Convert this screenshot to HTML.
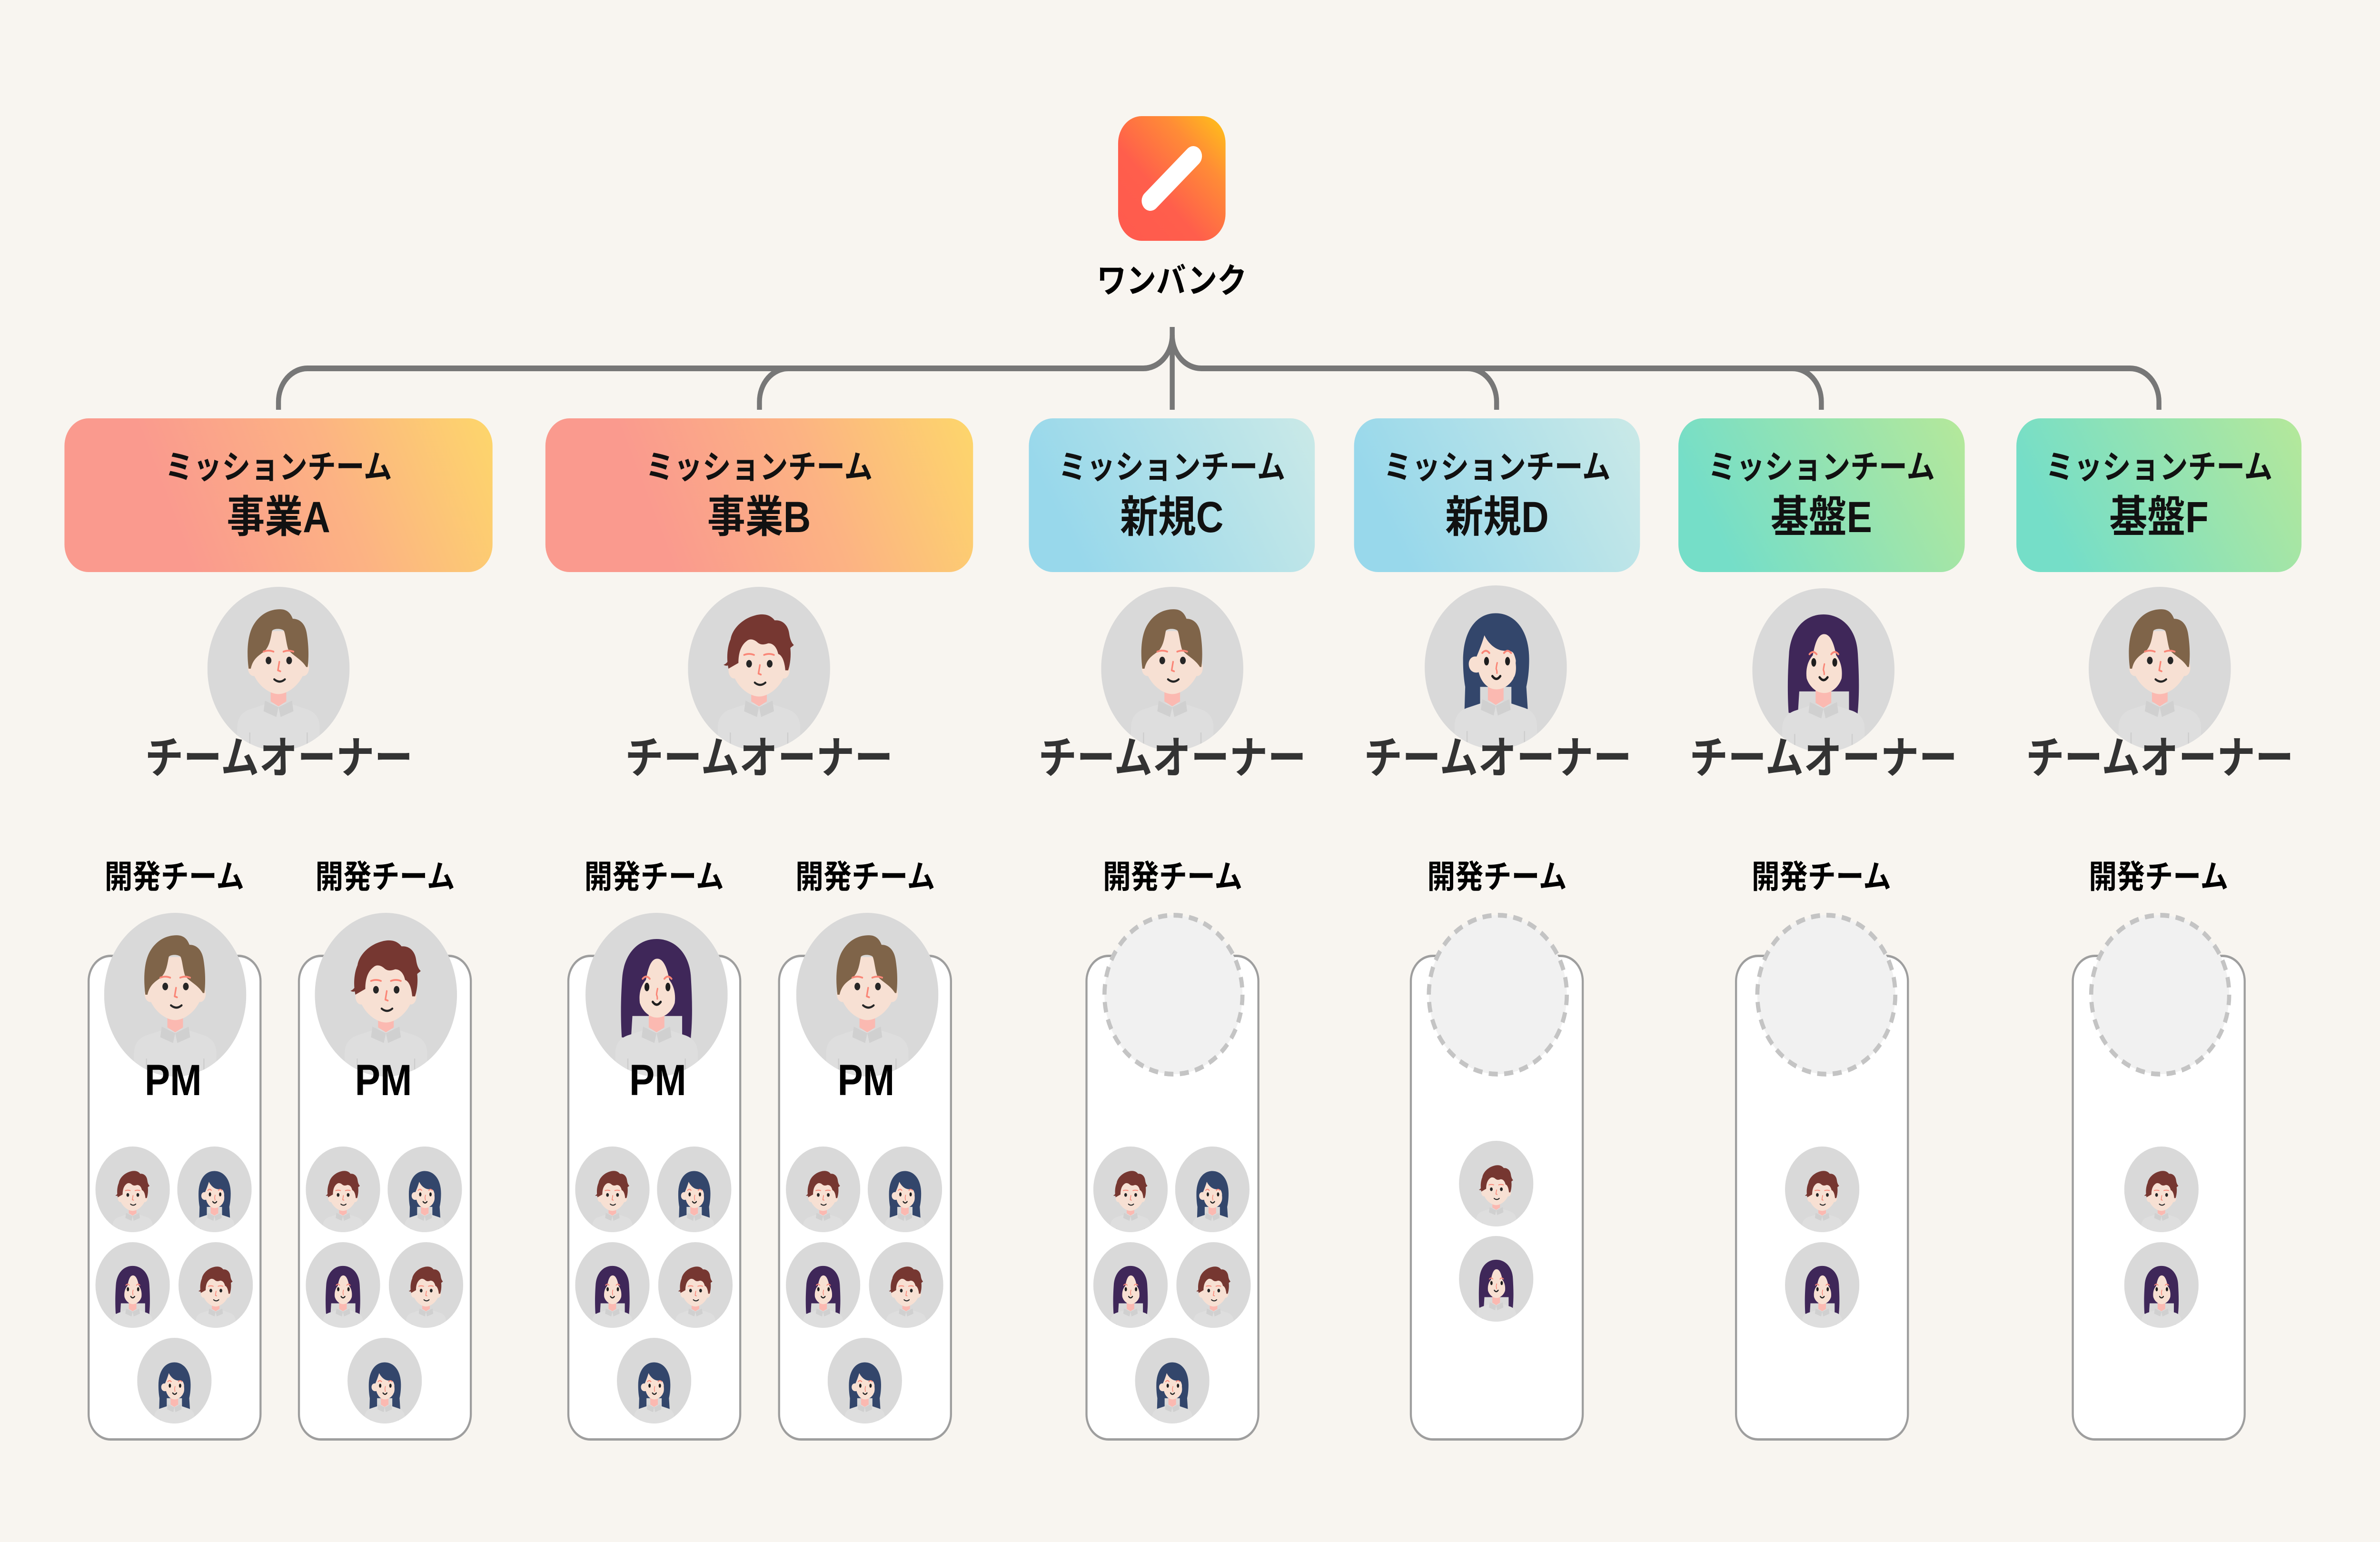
<!DOCTYPE html>
<html lang="ja">
<head>
<meta charset="utf-8">
<style>
html,body{margin:0;padding:0;background:#F8F5F0;width:100%;height:100%;overflow:hidden;}
svg.root{display:block;width:100vw;height:100vh;}
</style>
</head>
<body>
<svg class="root" xmlns="http://www.w3.org/2000/svg" viewBox="0 0 5760 3240" preserveAspectRatio="none">
<defs>
  <clipPath id="cc" clipPathUnits="userSpaceOnUse"><circle cx="50" cy="50" r="50"/></clipPath>
  <linearGradient id="lg" gradientUnits="userSpaceOnUse" x1="2706" y1="506" x2="2966" y2="244">
    <stop offset="0" stop-color="#FF5A4E"/><stop offset="0.38" stop-color="#FF5E4C"/>
    <stop offset="0.72" stop-color="#FF8C36"/><stop offset="1" stop-color="#FFC417"/>
  </linearGradient>
  <linearGradient id="gA" gradientUnits="userSpaceOnUse" x1="467" y1="1202" x2="1192" y2="879">
    <stop offset="0" stop-color="#FA9A8E"/><stop offset="0.5" stop-color="#FCB383"/><stop offset="1" stop-color="#FDD66B"/>
  </linearGradient>
  <linearGradient id="gB" gradientUnits="userSpaceOnUse" x1="1630" y1="1202" x2="2355" y2="879">
    <stop offset="0" stop-color="#FA9A8E"/><stop offset="0.5" stop-color="#FCB383"/><stop offset="1" stop-color="#FDD66B"/>
  </linearGradient>
  <linearGradient id="gC" gradientUnits="userSpaceOnUse" x1="2628" y1="1202" x2="3182" y2="879">
    <stop offset="0" stop-color="#98D8EB"/><stop offset="1" stop-color="#CAE9E7"/>
  </linearGradient>
  <linearGradient id="gD" gradientUnits="userSpaceOnUse" x1="3415" y1="1202" x2="3969" y2="879">
    <stop offset="0" stop-color="#98D8EB"/><stop offset="1" stop-color="#CAE9E7"/>
  </linearGradient>
  <linearGradient id="gE" gradientUnits="userSpaceOnUse" x1="4200" y1="1202" x2="4755" y2="879">
    <stop offset="0" stop-color="#75DEC8"/><stop offset="1" stop-color="#B5E89A"/>
  </linearGradient>
  <linearGradient id="gF" gradientUnits="userSpaceOnUse" x1="5018" y1="1202" x2="5570" y2="879">
    <stop offset="0" stop-color="#75DEC8"/><stop offset="1" stop-color="#B5E89A"/>
  </linearGradient>

  <g id="body">
    <path d="M21 101V86Q21 77 31 74.5L43 71H57L69 74.5Q79 77 79 86V101Z" fill="#DEDEDE"/>
    <path d="M29.8 89V101M70.2 89V101" stroke="#CDCDCD" stroke-width="0.8"/>
    <path d="M44.5 58V70L50 73L55.5 70V58Z" fill="#FBB9B1"/>
    <path d="M40.5 69.5L50 73.5L48.5 79.5L39.5 76ZM59.5 69.5L50 73.5L51.5 79.5L60.5 76Z" fill="#D0D0D0"/>
  </g>
  <g id="mface">
    <ellipse cx="32.5" cy="51" rx="4" ry="5" fill="#F7E0D3"/>
    <ellipse cx="67.5" cy="51" rx="4" ry="5" fill="#F7E0D3"/>
    <path d="M31 42C31 31 39 28.5 50 28.5C61 28.5 69 31 69 42V50C68 59 58 67 50 67C42 67 32 59 31 50Z" fill="#F7E0D3"/>
  </g>
  <g id="mfeat">
    <ellipse cx="43" cy="47" rx="2" ry="2.3" fill="#262626"/>
    <ellipse cx="57.5" cy="47" rx="2" ry="2.3" fill="#262626"/>
    <path d="M39.5 41.6Q43 40.4 46.5 41.6M53.5 41.6Q57 40.4 60.5 41.6" stroke="#FA8677" stroke-width="1.1" fill="none" stroke-linecap="round"/>
    <path d="M50.6 47.8L49.6 53L51.3 53.6" stroke="#FA8677" stroke-width="1.1" fill="none" stroke-linecap="round" stroke-linejoin="round"/>
    <path d="M47 58.5Q50.8 61.3 54.5 58.5" stroke="#262626" stroke-width="1.3" fill="none" stroke-linecap="round"/>
  </g>
  <g id="wfeat">
    <ellipse cx="43.5" cy="46.3" rx="1.7" ry="2.6" fill="#1E1E1E"/>
    <ellipse cx="58.3" cy="46.3" rx="1.7" ry="2.6" fill="#1E1E1E"/>
    <path d="M40.5 41.3Q43 38.6 45.5 41.3M55.8 41.3Q58.3 38.6 60.8 41.3" stroke="#FA8677" stroke-width="1.2" fill="none" stroke-linecap="round"/>
    <path d="M51 47.3Q50.3 50 50.3 51Q51 52.5 50.8 53.6" stroke="#FA8677" stroke-width="1" fill="none" stroke-linecap="round"/>
    <path d="M47.6 55.4Q50.4 58.8 53.2 55.4" stroke="#1E1E1E" stroke-width="1.5" fill="none" stroke-linecap="round"/>
  </g>

  <g id="redman">
    <use href="#body"/>
    <use href="#mface"/>
    <path d="M28.5 50C27 44 27.5 37 30 32C31 26 38 19.5 47 17.5C53 16 58 17 61 20.5C66 20 70.5 23 71.3 29C71.8 32 73 34.5 74.5 35.5C73.5 36.5 72.3 36.8 72 37.5C72.6 42 72 47 70.5 51L68.5 51C68 46 66.5 42 63.5 41C62.5 37 60 34.5 56.5 34.5C53.5 35.5 51 35.5 49 34C46.5 32 43.5 31.5 41.5 33C37.5 35.5 35.5 40 35.5 46.5L32.5 48Z" fill="#763731"/>
    <path d="M29 44C28 46 26.5 47.3 25 47.6C26.8 48.6 28.5 48.2 29.6 47Z" fill="#763731"/>
    <use href="#mfeat"/>
  </g>
  <g id="brownman">
    <use href="#body"/>
    <g transform="translate(0 -1.5)"><use href="#mface"/></g>
    <path d="M29 50C27.5 40 28 29 33 22.5C37.5 16.5 44 13.7 51 13.7C56 13.7 58.5 16 60 19.5C64.5 19.5 68.5 22 69.8 28C71.2 35 71.5 43 70.5 49L69.5 49C66 44 60 42 57 38.5C55.5 35 55 29 53.8 26.8C52 25.3 47 25.3 45.5 26.8C44.5 31 44 36 40 39.5C36 42 32 44 30.5 50Z" fill="#7F6449"/>
    <g transform="translate(0 -2)"><use href="#mfeat"/></g>
  </g>
  <g id="navywoman">
    <path d="M27 46C27 27 37 17 50 17C63 17 73.5 27 73.5 45C73.5 53 72.5 58 71.5 62L72.5 75.5L61 76L61 62L39 62L39 76L28 76L28.5 62C27.5 57 27 52 27 46Z" fill="#33466B"/>
    <use href="#body"/>
    <path d="M42 30.5C44 34 47.5 38 53 39.5C57 40.5 60.5 39 62.5 41.5C64.5 45 65 50 64 54C62 59 57 63.5 50.5 63.5C44 63.5 39.5 58.5 38 53C34.5 54 31 52 31 48C31 45 33.5 43 36.5 43.5C38.5 39.5 40.5 35 42 30.5Z" fill="#F8E0D2"/>
    <path d="M64.3 44C66 49 66.8 53.5 65.8 56C64.8 57.8 63.2 57.4 62.4 56.6C64 55 64.6 51.5 64 47.5Z" fill="#33466B"/>
    <use href="#wfeat"/>
  </g>
  <g id="purplewoman">
    <path d="M25.5 76C24.5 62 25 50 25.8 40C27 25 37 16 50 16C63 16 73.5 25 74.2 40C75 52 75.5 64 74 77L68 77L68 63L33 63L32 77Z" fill="#3F2759"/>
    <use href="#body"/>
    <path d="M50.5 28C46 28 44 34 42.5 41C38.5 45 37.5 50 38.2 55C40 60 45 64 50.5 64C56 64 61 60 62.8 55C63.5 50 62.5 45 59 41C57.5 34 55 28 50.5 28Z" fill="#F8E0D2"/>
    <g transform="translate(-0.3 -1)"><use href="#wfeat"/></g>
  </g>
</defs>

<rect x="0" y="0" width="5760" height="3240" fill="#F8F5F0"/>

<!-- Logo -->
<rect x="2706" y="244" width="260" height="262" rx="57" fill="url(#lg)"/>
<line x1="2784" y1="422" x2="2888" y2="328" stroke="#FFFFFF" stroke-width="42" stroke-linecap="round"/>
<text x="2836" y="615" font-family="'Liberation Sans','Noto Sans CJK JP',sans-serif" font-weight="700" font-size="72" text-anchor="middle" fill="#000">ワンバンク</text>

<!-- Connectors -->
<g stroke="#777777" stroke-width="12" fill="none">
  <path d="M2837 687V861"/>
  <path d="M2837 704A70 70 0 0 1 2767 774H744A70 70 0 0 0 674 844V861"/>
  <path d="M2837 704A70 70 0 0 0 2907 774H5155A70 70 0 0 1 5225 844V861"/>
  <path d="M1908 774A70 70 0 0 0 1838 844V861"/>
  <path d="M3552 774A70 70 0 0 1 3622 844V861"/>
  <path d="M4338 774A70 70 0 0 1 4408 844V861"/>
</g>

<!-- Mission boxes -->
<rect x="156" y="879" width="1036" height="323" rx="58" fill="url(#gA)"/>
<rect x="1320" y="879" width="1035" height="323" rx="58" fill="url(#gB)"/>
<rect x="2490" y="879" width="692" height="323" rx="58" fill="url(#gC)"/>
<rect x="3277" y="879" width="692" height="323" rx="58" fill="url(#gD)"/>
<rect x="4062" y="879" width="693" height="323" rx="58" fill="url(#gE)"/>
<rect x="4880" y="879" width="690" height="323" rx="58" fill="url(#gF)"/>

<g font-family="'Liberation Sans','Noto Sans CJK JP',sans-serif" font-weight="700" text-anchor="middle" fill="#111">
  <text x="674" y="1005" font-size="69">ミッションチーム</text>
  <text x="674" y="1118" font-size="92">事業A</text>
  <text x="1837" y="1005" font-size="69">ミッションチーム</text>
  <text x="1837" y="1118" font-size="92">事業B</text>
  <text x="2836" y="1005" font-size="69">ミッションチーム</text>
  <text x="2836" y="1118" font-size="92">新規C</text>
  <text x="3623" y="1005" font-size="69">ミッションチーム</text>
  <text x="3623" y="1118" font-size="92">新規D</text>
  <text x="4408" y="1005" font-size="69">ミッションチーム</text>
  <text x="4408" y="1118" font-size="92">基盤E</text>
  <text x="5225" y="1005" font-size="69">ミッションチーム</text>
  <text x="5225" y="1118" font-size="92">基盤F</text>
</g>

<!-- Owners -->
<svg x="502" y="1233" width="344" height="344" viewBox="0 0 100 100"><circle cx="50" cy="50" r="50" fill="#D9D9D9"/><g clip-path="url(#cc)"><use href="#brownman"/></g></svg>
<svg x="1665" y="1233" width="344" height="344" viewBox="0 0 100 100"><circle cx="50" cy="50" r="50" fill="#D9D9D9"/><g clip-path="url(#cc)"><use href="#redman"/></g></svg>
<svg x="2665" y="1233" width="344" height="344" viewBox="0 0 100 100"><circle cx="50" cy="50" r="50" fill="#D9D9D9"/><g clip-path="url(#cc)"><use href="#brownman"/></g></svg>
<svg x="3448" y="1230" width="344" height="344" viewBox="0 0 100 100"><circle cx="50" cy="50" r="50" fill="#D9D9D9"/><g clip-path="url(#cc)"><use href="#navywoman"/></g></svg>
<svg x="4241" y="1236" width="344" height="344" viewBox="0 0 100 100"><circle cx="50" cy="50" r="50" fill="#D9D9D9"/><g clip-path="url(#cc)"><use href="#purplewoman"/></g></svg>
<svg x="5055" y="1233" width="344" height="344" viewBox="0 0 100 100"><circle cx="50" cy="50" r="50" fill="#D9D9D9"/><g clip-path="url(#cc)"><use href="#brownman"/></g></svg>

<g font-family="'Liberation Sans','Noto Sans CJK JP',sans-serif" font-weight="700" font-size="93" text-anchor="middle" fill="#333333">
  <text x="675" y="1625">チームオーナー</text>
  <text x="1837" y="1625">チームオーナー</text>
  <text x="2837" y="1625">チームオーナー</text>
  <text x="3625" y="1625">チームオーナー</text>
  <text x="4413" y="1625">チームオーナー</text>
  <text x="5227" y="1625">チームオーナー</text>
</g>

<!-- Dev team labels -->
<g font-family="'Liberation Sans','Noto Sans CJK JP',sans-serif" font-weight="700" font-size="68" text-anchor="middle" fill="#000">
  <text x="422" y="1866">開発チーム</text>
  <text x="932" y="1866">開発チーム</text>
  <text x="1583" y="1866">開発チーム</text>
  <text x="2094" y="1866">開発チーム</text>
  <text x="2838" y="1866">開発チーム</text>
  <text x="3623" y="1866">開発チーム</text>
  <text x="4408" y="1866">開発チーム</text>
  <text x="5224" y="1866">開発チーム</text>
</g>

<!-- Dev team boxes -->
<g fill="#FFFFFF" stroke="#9E9E9E" stroke-width="5">
  <rect x="214.5" y="2008.5" width="416" height="1016" rx="53"/>
  <rect x="723.5" y="2008.5" width="416" height="1016" rx="53"/>
  <rect x="1375.5" y="2008.5" width="416" height="1016" rx="53"/>
  <rect x="1885.5" y="2008.5" width="416" height="1016" rx="53"/>
  <rect x="2629.5" y="2008.5" width="416" height="1016" rx="53"/>
  <rect x="3414.5" y="2008.5" width="416" height="1016" rx="53"/>
  <rect x="4201.5" y="2008.5" width="416" height="1016" rx="53"/>
  <rect x="5016.5" y="2008.5" width="416" height="1016" rx="53"/>
</g>

<!-- PM avatars -->
<svg x="252" y="1918" width="344" height="344" viewBox="0 0 100 100"><circle cx="50" cy="50" r="50" fill="#D9D9D9"/><g clip-path="url(#cc)"><use href="#brownman"/></g></svg>
<svg x="762" y="1918" width="344" height="344" viewBox="0 0 100 100"><circle cx="50" cy="50" r="50" fill="#D9D9D9"/><g clip-path="url(#cc)"><use href="#redman"/></g></svg>
<svg x="1417" y="1918" width="344" height="344" viewBox="0 0 100 100"><circle cx="50" cy="50" r="50" fill="#D9D9D9"/><g clip-path="url(#cc)"><use href="#purplewoman"/></g></svg>
<svg x="1927" y="1918" width="344" height="344" viewBox="0 0 100 100"><circle cx="50" cy="50" r="50" fill="#D9D9D9"/><g clip-path="url(#cc)"><use href="#brownman"/></g></svg>

<g font-family="'Liberation Sans',sans-serif" font-weight="700" font-size="92" text-anchor="middle" fill="#000">
  <text x="419" y="2301">PM</text>
  <text x="928" y="2301">PM</text>
  <text x="1592" y="2301">PM</text>
  <text x="2096" y="2301">PM</text>
</g>

<!-- Dashed empty PM circles -->
<g fill="#F1F1F1" stroke="#C4C4C4" stroke-width="10" stroke-dasharray="22 15.47">
  <circle cx="2840" cy="2090" r="167"/>
  <circle cx="3625" cy="2090" r="167"/>
  <circle cx="4420" cy="2090" r="167"/>
  <circle cx="5228" cy="2090" r="167"/>
</g>

<!-- Small member avatars -->
<!-- col1 -->
<svg x="231" y="2409" width="180" height="180" viewBox="0 0 100 100"><circle cx="50" cy="50" r="50" fill="#D9D9D9"/><g clip-path="url(#cc)"><use href="#redman" transform="translate(3.5 12.8) scale(0.93)"/></g></svg>
<svg x="429" y="2409" width="180" height="180" viewBox="0 0 100 100"><circle cx="50" cy="50" r="50" fill="#D9D9D9"/><g clip-path="url(#cc)"><use href="#navywoman" transform="translate(3.5 12.8) scale(0.93)"/></g></svg>
<svg x="231" y="2610" width="180" height="180" viewBox="0 0 100 100"><circle cx="50" cy="50" r="50" fill="#D9D9D9"/><g clip-path="url(#cc)"><use href="#purplewoman" transform="translate(3.5 12.8) scale(0.93)"/></g></svg>
<svg x="432" y="2610" width="180" height="180" viewBox="0 0 100 100"><circle cx="50" cy="50" r="50" fill="#D9D9D9"/><g clip-path="url(#cc)"><use href="#redman" transform="translate(3.5 12.8) scale(0.93)"/></g></svg>
<svg x="332" y="2811" width="180" height="180" viewBox="0 0 100 100"><circle cx="50" cy="50" r="50" fill="#D9D9D9"/><g clip-path="url(#cc)"><use href="#navywoman" transform="translate(3.5 12.8) scale(0.93)"/></g></svg>
<!-- col2 -->
<svg x="740" y="2409" width="180" height="180" viewBox="0 0 100 100"><circle cx="50" cy="50" r="50" fill="#D9D9D9"/><g clip-path="url(#cc)"><use href="#redman" transform="translate(3.5 12.8) scale(0.93)"/></g></svg>
<svg x="938" y="2409" width="180" height="180" viewBox="0 0 100 100"><circle cx="50" cy="50" r="50" fill="#D9D9D9"/><g clip-path="url(#cc)"><use href="#navywoman" transform="translate(3.5 12.8) scale(0.93)"/></g></svg>
<svg x="740" y="2610" width="180" height="180" viewBox="0 0 100 100"><circle cx="50" cy="50" r="50" fill="#D9D9D9"/><g clip-path="url(#cc)"><use href="#purplewoman" transform="translate(3.5 12.8) scale(0.93)"/></g></svg>
<svg x="941" y="2610" width="180" height="180" viewBox="0 0 100 100"><circle cx="50" cy="50" r="50" fill="#D9D9D9"/><g clip-path="url(#cc)"><use href="#redman" transform="translate(3.5 12.8) scale(0.93)"/></g></svg>
<svg x="841" y="2811" width="180" height="180" viewBox="0 0 100 100"><circle cx="50" cy="50" r="50" fill="#D9D9D9"/><g clip-path="url(#cc)"><use href="#navywoman" transform="translate(3.5 12.8) scale(0.93)"/></g></svg>
<!-- col3 -->
<svg x="1392" y="2409" width="180" height="180" viewBox="0 0 100 100"><circle cx="50" cy="50" r="50" fill="#D9D9D9"/><g clip-path="url(#cc)"><use href="#redman" transform="translate(3.5 12.8) scale(0.93)"/></g></svg>
<svg x="1590" y="2409" width="180" height="180" viewBox="0 0 100 100"><circle cx="50" cy="50" r="50" fill="#D9D9D9"/><g clip-path="url(#cc)"><use href="#navywoman" transform="translate(3.5 12.8) scale(0.93)"/></g></svg>
<svg x="1392" y="2610" width="180" height="180" viewBox="0 0 100 100"><circle cx="50" cy="50" r="50" fill="#D9D9D9"/><g clip-path="url(#cc)"><use href="#purplewoman" transform="translate(3.5 12.8) scale(0.93)"/></g></svg>
<svg x="1593" y="2610" width="180" height="180" viewBox="0 0 100 100"><circle cx="50" cy="50" r="50" fill="#D9D9D9"/><g clip-path="url(#cc)"><use href="#redman" transform="translate(3.5 12.8) scale(0.93)"/></g></svg>
<svg x="1493" y="2811" width="180" height="180" viewBox="0 0 100 100"><circle cx="50" cy="50" r="50" fill="#D9D9D9"/><g clip-path="url(#cc)"><use href="#navywoman" transform="translate(3.5 12.8) scale(0.93)"/></g></svg>
<!-- col4 -->
<svg x="1902" y="2409" width="180" height="180" viewBox="0 0 100 100"><circle cx="50" cy="50" r="50" fill="#D9D9D9"/><g clip-path="url(#cc)"><use href="#redman" transform="translate(3.5 12.8) scale(0.93)"/></g></svg>
<svg x="2100" y="2409" width="180" height="180" viewBox="0 0 100 100"><circle cx="50" cy="50" r="50" fill="#D9D9D9"/><g clip-path="url(#cc)"><use href="#navywoman" transform="translate(3.5 12.8) scale(0.93)"/></g></svg>
<svg x="1902" y="2610" width="180" height="180" viewBox="0 0 100 100"><circle cx="50" cy="50" r="50" fill="#D9D9D9"/><g clip-path="url(#cc)"><use href="#purplewoman" transform="translate(3.5 12.8) scale(0.93)"/></g></svg>
<svg x="2103" y="2610" width="180" height="180" viewBox="0 0 100 100"><circle cx="50" cy="50" r="50" fill="#D9D9D9"/><g clip-path="url(#cc)"><use href="#redman" transform="translate(3.5 12.8) scale(0.93)"/></g></svg>
<svg x="2003" y="2811" width="180" height="180" viewBox="0 0 100 100"><circle cx="50" cy="50" r="50" fill="#D9D9D9"/><g clip-path="url(#cc)"><use href="#navywoman" transform="translate(3.5 12.8) scale(0.93)"/></g></svg>
<!-- col5 -->
<svg x="2646" y="2409" width="180" height="180" viewBox="0 0 100 100"><circle cx="50" cy="50" r="50" fill="#D9D9D9"/><g clip-path="url(#cc)"><use href="#redman" transform="translate(3.5 12.8) scale(0.93)"/></g></svg>
<svg x="2844" y="2409" width="180" height="180" viewBox="0 0 100 100"><circle cx="50" cy="50" r="50" fill="#D9D9D9"/><g clip-path="url(#cc)"><use href="#navywoman" transform="translate(3.5 12.8) scale(0.93)"/></g></svg>
<svg x="2646" y="2610" width="180" height="180" viewBox="0 0 100 100"><circle cx="50" cy="50" r="50" fill="#D9D9D9"/><g clip-path="url(#cc)"><use href="#purplewoman" transform="translate(3.5 12.8) scale(0.93)"/></g></svg>
<svg x="2847" y="2610" width="180" height="180" viewBox="0 0 100 100"><circle cx="50" cy="50" r="50" fill="#D9D9D9"/><g clip-path="url(#cc)"><use href="#redman" transform="translate(3.5 12.8) scale(0.93)"/></g></svg>
<svg x="2747" y="2811" width="180" height="180" viewBox="0 0 100 100"><circle cx="50" cy="50" r="50" fill="#D9D9D9"/><g clip-path="url(#cc)"><use href="#navywoman" transform="translate(3.5 12.8) scale(0.93)"/></g></svg>
<!-- col6 -->
<svg x="3531" y="2397" width="180" height="180" viewBox="0 0 100 100"><circle cx="50" cy="50" r="50" fill="#D9D9D9"/><g clip-path="url(#cc)"><use href="#redman" transform="translate(3.5 12.8) scale(0.93)"/></g></svg>
<svg x="3531" y="2597" width="180" height="180" viewBox="0 0 100 100"><circle cx="50" cy="50" r="50" fill="#D9D9D9"/><g clip-path="url(#cc)"><use href="#purplewoman" transform="translate(3.5 12.8) scale(0.93)"/></g></svg>
<!-- col7 -->
<svg x="4320" y="2409" width="180" height="180" viewBox="0 0 100 100"><circle cx="50" cy="50" r="50" fill="#D9D9D9"/><g clip-path="url(#cc)"><use href="#redman" transform="translate(3.5 12.8) scale(0.93)"/></g></svg>
<svg x="4320" y="2610" width="180" height="180" viewBox="0 0 100 100"><circle cx="50" cy="50" r="50" fill="#D9D9D9"/><g clip-path="url(#cc)"><use href="#purplewoman" transform="translate(3.5 12.8) scale(0.93)"/></g></svg>
<!-- col8 -->
<svg x="5141" y="2409" width="180" height="180" viewBox="0 0 100 100"><circle cx="50" cy="50" r="50" fill="#D9D9D9"/><g clip-path="url(#cc)"><use href="#redman" transform="translate(3.5 12.8) scale(0.93)"/></g></svg>
<svg x="5141" y="2610" width="180" height="180" viewBox="0 0 100 100"><circle cx="50" cy="50" r="50" fill="#D9D9D9"/><g clip-path="url(#cc)"><use href="#purplewoman" transform="translate(3.5 12.8) scale(0.93)"/></g></svg>

</svg>
</body>
</html>
